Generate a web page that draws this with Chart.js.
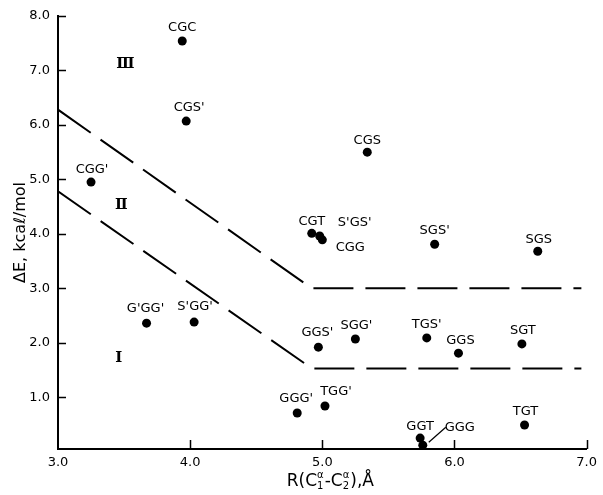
<!DOCTYPE html>
<html><head><meta charset="utf-8">
<script src="https://cdn.jsdelivr.net/npm/chart.js@4"></script>
<style>html,body{margin:0;padding:0;background:#fff}#wrap{width:603px;height:495px;position:relative}</style>
</head><body><div id="wrap"><canvas id="c"></canvas></div>
<script>
// ---- data ----
const conformers = ["CGC","CGS'","CGG'","CGS","CGT","S'GS'","CGG","SGS'","SGS","G'GG'","S'GG'","GGS'","SGG'","GGG'","TGG'","TGS'","GGS","SGT","TGT","GGT","GGG"];
const distance   = [3.94, 3.97, 3.25, 5.34, 4.92, 4.98, 5.00, 5.85, 6.63, 3.67, 4.03, 4.97, 5.25, 4.81, 5.02, 5.79, 6.03, 6.51, 6.53, 5.74, 5.76];
const energy     = [7.54, 6.07, 4.95, 5.50, 4.01, 3.96, 3.89, 3.81, 3.68, 2.36, 2.38, 1.92, 2.07, 0.71, 0.84, 2.09, 1.81, 1.98, 0.49, 0.25, 0.12];
const upperBoundaryX = [3.0, 4.92, 6.96];
const upperBoundaryY = [6.28, 3.0, 3.0];
const lowerBoundaryX = [3.0, 4.92, 6.96];
const lowerBoundaryY = [4.78, 1.53, 1.53];
const xTicks = [3, 4, 5, 6, 7];
const yTicks = [1, 2, 3, 4, 5, 6, 7, 8];
const regionNames = ["Ⅲ", "Ⅱ", "Ⅰ"];
const regionX = [3.51, 3.48, 3.46];
const regionY = [7.12, 4.53, 1.72];
const xTitleParts = ["R(C", ["α", "1"], "-C", ["α", "2"], "),Å"];
const yTitle = "ΔE, kcaℓ/mol";

// ---- label placement (pixel offsets from each dot) ----
const labelOffsets = [[0,-13],[3,-13],[1,-12],[0,-12],[0,-12],[35,-13],[28,8],[0,-14],[1,-12],[-1,-15],[1,-15],[-1,-15],[1,-13],[-1,-14],[11,-14],[0,-13],[2,-13],[1,-13],[1,-13],[0,-11],[37,-18]];

const FONT = "'DejaVu Sans', sans-serif";

const annotPlugin = {
  id: 'annot',
  afterDraw(chart) {
    const {ctx, chartArea: a, scales: {x, y}} = chart;
    ctx.save();
    // inner tick marks
    ctx.strokeStyle = '#000';
    ctx.lineWidth = 1.5;
    ctx.beginPath();
    yTicks.forEach(v => { const py = Math.round(y.getPixelForValue(v)) + 0.5; ctx.moveTo(a.left, py); ctx.lineTo(a.left + 8, py); });
    xTicks.slice(1).forEach(v => { const px = Math.round(x.getPixelForValue(v)) + 0.5; ctx.moveTo(px, a.bottom); ctx.lineTo(px, a.bottom - 9); });
    ctx.stroke();
    // point labels
    const meta = chart.getDatasetMeta(0);
    ctx.fillStyle = '#000';
    ctx.font = "13px " + FONT;
    ctx.textAlign = 'center';
    ctx.textBaseline = 'middle';
    meta.data.forEach((pt, i) => {
      const [dx, dy] = labelOffsets[i];
      ctx.fillText(conformers[i], pt.x + dx, pt.y + dy);
    });
    // leader line for GGG
    const g = meta.data[conformers.length - 1];
    ctx.lineWidth = 1.2;
    ctx.beginPath();
    ctx.moveTo(g.x + 6, g.y - 3);
    ctx.lineTo(g.x + 23, g.y - 18);
    ctx.stroke();
    // region numerals
    ctx.font = "bold 15px 'DejaVu Serif', serif";
    regionNames.forEach((t, i) => {
      ctx.fillText(t, x.getPixelForValue(regionX[i]), y.getPixelForValue(regionY[i]));
    });
    // x axis title with stacked super/subscripts
    const mainFont = "17px " + FONT, smallFont = "10px " + FONT;
    ctx.textBaseline = 'alphabetic';
    ctx.textAlign = 'left';
    let total = 0;
    const widths = xTitleParts.map(p => {
      let w;
      if (typeof p === 'string') { ctx.font = mainFont; w = ctx.measureText(p).width; }
      else { ctx.font = smallFont; w = Math.max(ctx.measureText(p[0]).width, ctx.measureText(p[1]).width) + 1; }
      total += w; return w;
    });
    let cx = (a.left + a.right) / 2 + 8 - total / 2;
    const base = 486;
    xTitleParts.forEach((p, i) => {
      if (typeof p === 'string') { ctx.font = mainFont; ctx.fillText(p, cx, base); }
      else { ctx.font = smallFont; ctx.fillText(p[0], cx, base - 8); ctx.fillText(p[1], cx, base + 3); }
      cx += widths[i];
    });
    ctx.restore();
  }
};

const dashStyle = {type: 'line', showLine: true, borderColor: '#000', borderWidth: 2, borderDash: [40, 12], pointRadius: 0, fill: false, tension: 0};

new Chart(document.getElementById('c'), {
  type: 'scatter',
  data: {
    datasets: [
      {label: 'conformers', data: distance.map((d, i) => ({x: d, y: energy[i]})), backgroundColor: '#000', borderColor: '#000', pointRadius: 4.5, pointBorderWidth: 0, clip: false},
      Object.assign({label: 'upper', data: upperBoundaryX.map((d, i) => ({x: d, y: upperBoundaryY[i]}))}, dashStyle),
      Object.assign({label: 'lower', data: lowerBoundaryX.map((d, i) => ({x: d, y: lowerBoundaryY[i]}))}, dashStyle)
    ]
  },
  options: {
    responsive: true,
    maintainAspectRatio: false,
    animation: false,
    layout: {padding: {top: 16, right: 11, left: 0, bottom: 0}},
    plugins: {legend: {display: false}, tooltip: {enabled: false}},
    scales: {
      x: {
        type: 'linear', position: 'bottom', min: 3, max: 7,
        afterBuildTicks: s => { s.ticks = xTicks.map(v => ({value: v})); },
        afterFit: s => { s.height = 46; },
        ticks: {callback: v => Number(v).toFixed(1), color: '#000', font: {family: FONT, size: 13}, padding: 6, maxRotation: 0, autoSkip: false},
        grid: {display: false, drawTicks: false},
        border: {display: true, color: '#000', width: 2},
        title: {display: false}
      },
      y: {
        type: 'linear', min: 0.05, max: 8,
        afterBuildTicks: s => { s.ticks = yTicks.map(v => ({value: v})); },
        afterFit: s => { s.width = 58; },
        ticks: {callback: v => Number(v).toFixed(1), color: '#000', font: {family: FONT, size: 13}, padding: 8, autoSkip: false},
        grid: {display: false, drawTicks: false},
        border: {display: true, color: '#000', width: 2},
        title: {display: true, text: yTitle, color: '#000', font: {family: FONT, size: 16}, padding: {top: 11, bottom: 0}, align: 'center'}
      }
    }
  },
  plugins: [annotPlugin]
});
</script>
</body></html>
